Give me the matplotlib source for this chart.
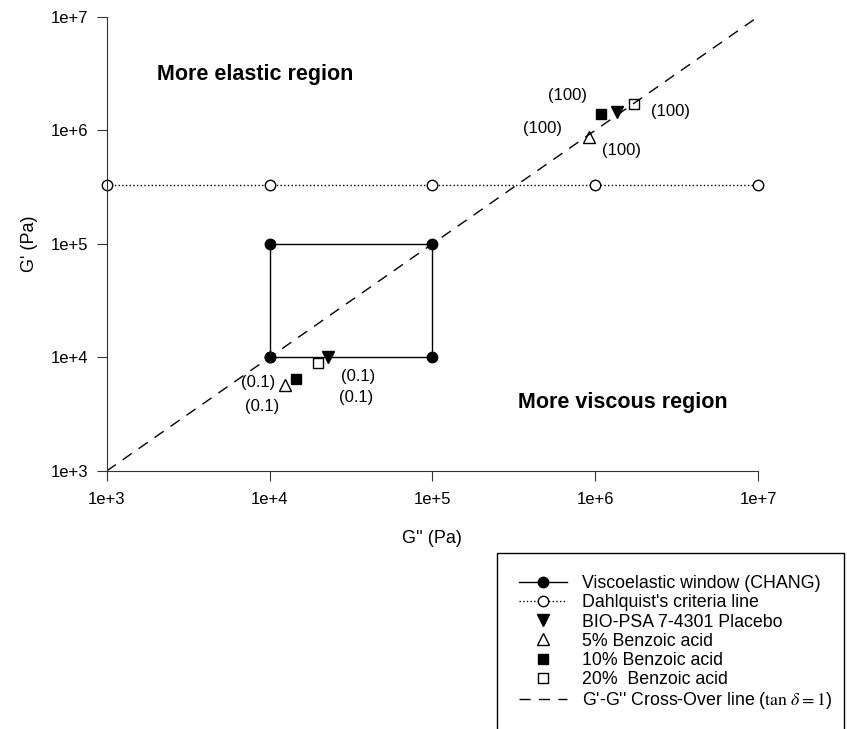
import matplotlib
matplotlib.use("Agg")
import matplotlib.pyplot as plt

plt.rcParams["font.family"] = ["Liberation Sans", "DejaVu Sans"]
plt.rcParams["mathtext.fontset"] = "stix"

# viscoelastic window corners (G'', G')
window_x = [1e4, 1e4, 1e5, 1e5, 1e4]
window_y = [1e4, 1e5, 1e5, 1e4, 1e4]

# Dahlquist criterion line
dahl_x = [1e3, 1e4, 1e5, 1e6, 1e7]
dahl_y = [3.3e5] * 5

# samples at 0.1 and 100 rad/s
placebo_x = [2.3e4, 1.36e6]
placebo_y = [1.0e4, 1.46e6]
benz5_x = [1.25e4, 9.2e5]
benz5_y = [5.7e3, 8.8e5]
benz10_x = [1.46e4, 1.09e6]
benz10_y = [6.5e3, 1.4e6]
benz20_x = [1.97e4, 1.73e6]
benz20_y = [8.96e3, 1.71e6]

cross_x = [1e3, 1e7]
cross_y = [1e3, 1e7]

# frequency annotations (x, y, text)
freq_labels = [(6.8e5, 2.01e6, "(100)"), (4.77e5, 1.03e6, "(100)"),
               (1.46e6, 6.6e5, "(100)"), (2.88e6, 1.46e6, "(100)"),
               (8.47e3, 5.96e3, "(0.1)"), (8.96e3, 3.66e3, "(0.1)"),
               (3.48e4, 6.73e3, "(0.1)"), (3.39e4, 4.4e3, "(0.1)")]

fig = plt.figure(figsize=(8.47, 7.29), dpi=100)
ax = fig.add_axes([0.126, 0.354, 0.769, 0.623])

ax.plot(window_x, window_y, "-", color="black", lw=1.0, marker="o", ms=7.5,
        mfc="black", mec="black", label="Viscoelastic window (CHANG)", clip_on=False)
ax.plot(dahl_x, dahl_y, ":", color="black", lw=1.0, marker="o", ms=7.5,
        mfc="white", mec="black", label="Dahlquist's criteria line", clip_on=False)
ax.plot(placebo_x, placebo_y, "v", color="black", ms=8.5, ls="none",
        label="BIO-PSA 7-4301 Placebo")
ax.plot(benz5_x, benz5_y, "^", mfc="white", mec="black", ms=8.5, ls="none",
        label="5% Benzoic acid")
ax.plot(benz10_x, benz10_y, "s", color="black", ms=7, ls="none",
        label="10% Benzoic acid")
ax.plot(benz20_x, benz20_y, "s", mfc="white", mec="black", ms=7, ls="none",
        label="20%  Benzoic acid")
ax.plot(cross_x, cross_y, color="black", lw=1.0, dashes=(8, 6),
        label=r"G'-G'' Cross-Over line ($\tan\,\delta = 1$)")

ax.set_xscale("log")
ax.set_yscale("log")
ax.set_xlim(1e3, 1e7)
ax.set_ylim(1e3, 1e7)
ticks = [1e3, 1e4, 1e5, 1e6, 1e7]
tick_labels = ["1e+3", "1e+4", "1e+5", "1e+6", "1e+7"]
ax.set_xticks(ticks)
ax.set_xticklabels(tick_labels)
ax.set_yticks(ticks)
ax.set_yticklabels(tick_labels)
ax.minorticks_off()
ax.tick_params(direction="out", length=7, labelsize=12, color="#333333")
ax.tick_params(axis="x", pad=8)
ax.tick_params(axis="y", pad=6.5)
for side in ["top", "right"]:
    ax.spines[side].set_visible(False)
for side in ["left", "bottom"]:
    ax.spines[side].set_color("#333333")

ax.set_xlabel("G'' (Pa)", fontsize=13, labelpad=17)
ax.set_ylabel("G' (Pa)", fontsize=13, labelpad=9)

ax.text(2.05e3, 3.08e6, "More elastic region", fontsize=15.5, fontweight="bold", va="center")
ax.text(3.37e5, 3.97e3, "More viscous region", fontsize=15.5, fontweight="bold", va="center")

for lx, ly, s in freq_labels:
    ax.text(lx, ly, s, fontsize=12, ha="center", va="center")

fig.legend(loc="upper left", bbox_to_anchor=(0.587, 0.2414, 0.409, 0.0),
           mode="expand", borderaxespad=0, fancybox=False, edgecolor="black",
           framealpha=1, fontsize=12.8, handlelength=2.7, handletextpad=0.8,
           labelspacing=0.12, borderpad=1.25)

fig.savefig("out.png", dpi=100)
